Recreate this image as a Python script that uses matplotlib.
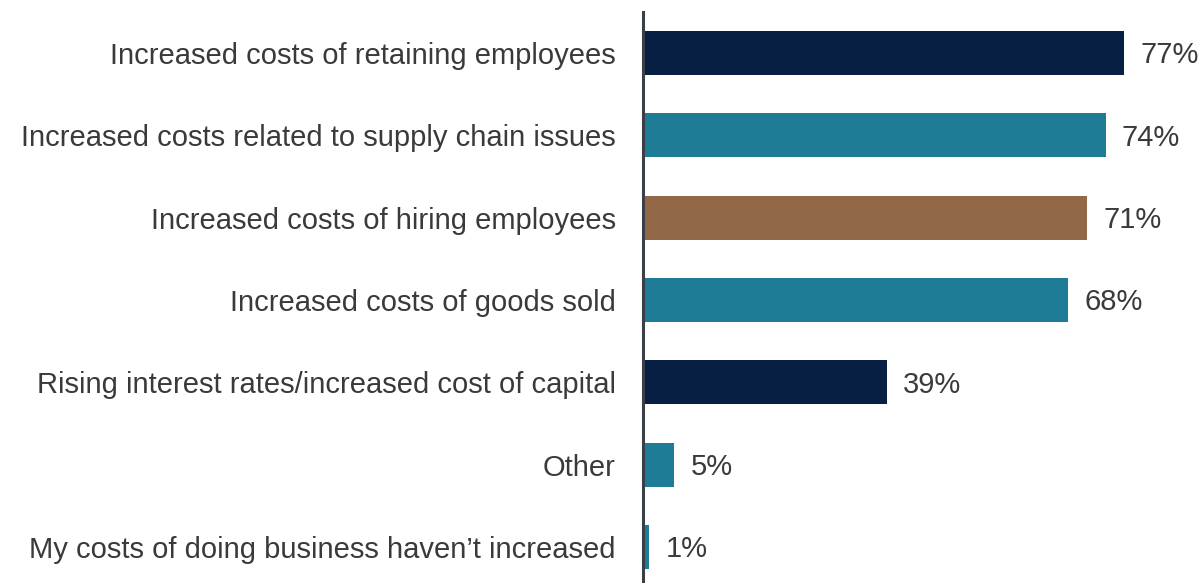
import matplotlib.pyplot as plt

# Datos del gráfico
categorias = [
    'Increased costs of retaining employees',
    'Increased costs related to supply chain issues',
    'Increased costs of hiring employees',
    'Increased costs of goods sold',
    'Rising interest rates/increased cost of capital',
    'Other',
    'My costs of doing business haven\u2019t increased',
]
valores = [77, 74, 71, 68, 39, 5, 1]
colores = ['#061f42', '#1f7c97', '#936846', '#1f7c97', '#061f42', '#1f7c97', '#1f7c97']

plt.rcParams['font.family'] = ['Liberation Sans', 'DejaVu Sans']
texto = '#3a3a3a'

fig = plt.figure(figsize=(12.02, 5.83), dpi=100)
ax = fig.add_axes([643 / 1202, 0, 1 - 643 / 1202, 1 - 12 / 583])

pos = list(range(len(categorias)))
ax.barh(pos, valores, height=0.535, color=colores)

for y, v in zip(pos, valores):
    ax.text(v + 2.6, y + 0.03, f'{v}%', va='center', ha='left', fontsize=21, color=texto)

ax.set_yticks(pos)
ax.set_yticklabels(categorias, fontsize=21, color=texto)
for t in ax.get_yticklabels():
    t.set_y(t.get_position()[1])
ax.tick_params(axis='y', length=0, pad=19.5)
ax.set_xticks([])
ax.set_xlim(0, 89.4)
ax.set_ylim(6 + 36 / 82.33, -41 / 82.33)

for lado in ['top', 'right', 'bottom']:
    ax.spines[lado].set_visible(False)
ax.spines['left'].set_color('#3b3f48')
ax.spines['left'].set_linewidth(2.2)

fig.savefig('out.png', dpi=100)
